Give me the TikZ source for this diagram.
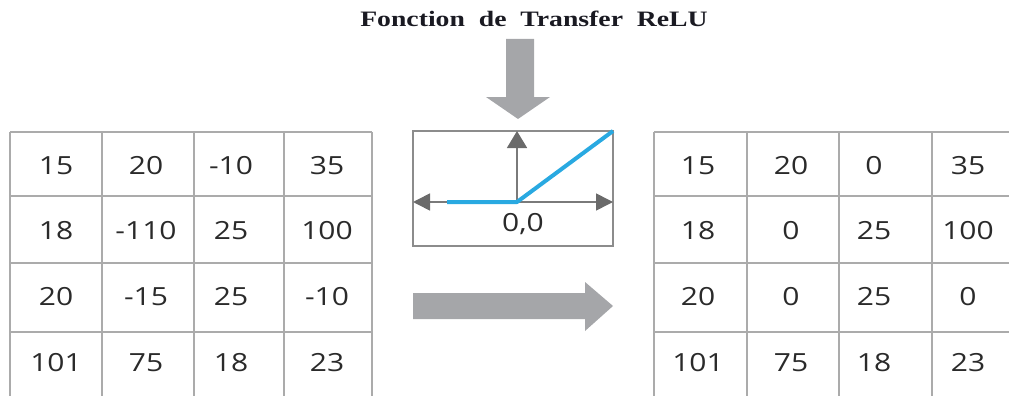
\documentclass[tikz,border=0pt]{standalone}
\usepackage{fontspec}
\usepackage{graphicx}
\setmainfont{Open Sans}
\newfontfamily\titlefont{Liberation Serif}
\usetikzlibrary{arrows.meta}

\definecolor{gridln}{HTML}{ABABAB}
\definecolor{numtext}{HTML}{2A2A2A}
\definecolor{boxln}{HTML}{8C8C8C}
\definecolor{axisln}{HTML}{7A7A7A}
\definecolor{axistip}{HTML}{6A6A6A}
\definecolor{relublue}{HTML}{29A9E1}
\definecolor{blockgray}{HTML}{A5A6A9}
\definecolor{titletext}{HTML}{1A1A22}

\tikzset{
  num/.style={font=\fontsize{25}{25}\selectfont, text=numtext, inner sep=0pt},
  gridline/.style={draw=gridln, line width=1.8pt},
  axis/.style={draw=axisln, line width=1.6pt},
  blockarrow/.style={fill=blockgray},
  titlestyle/.style={font=\titlefont\bfseries\fontsize{22}{22}\selectfont,
    text=titletext, inner sep=0pt}
}

\begin{document}
\begin{tikzpicture}[x=1pt,y=-1pt]
\useasboundingbox (0,0) rectangle (1009,396);

% title
\node[titlestyle, anchor=base] (title) at (534,27)
  {\scalebox{1.26}[1]{Fonction\ \ de\ \ Transfer\ \ ReLU}};

% arrow pointing down into the transfer function
\fill[blockarrow] (506,39) -- (534,39) -- (534,97) -- (550,97) -- (518,119)
  -- (486,97) -- (506,97) -- cycle;

% input matrix: grid
\foreach \y in {132,196,263,332} \draw[gridline] (10,\y) -- (372,\y);
\foreach \x in {10,102,194,284,372} \draw[gridline] (\x,132) -- (\x,396);

% input matrix: values
\foreach \vals [count=\i] in {{15,20,-10,35},{18,-110,25,100},{20,-15,25,-10},{101,75,18,23}}{
  \foreach \v [count=\j] in \vals {
    \pgfmathsetmacro\cx{{56,146,231,327}[\j-1]}
    \pgfmathsetmacro\cy{{166,231,297,363}[\i-1]}
    \node[num] (in-\i-\j) at (\cx,\cy) {\scalebox{1.2}[1]{\v}};
  }
}

% output matrix: grid
\foreach \y in {132,196,263,332} \draw[gridline] (654,\y) -- (1009,\y);
\foreach \x in {654,747,839,932} \draw[gridline] (\x,132) -- (\x,396);

% output matrix: values
\foreach \vals [count=\i] in {{15,20,0,35},{18,0,25,100},{20,0,25,0},{101,75,18,23}}{
  \foreach \v [count=\j] in \vals {
    \pgfmathsetmacro\cx{{698,791,874,968}[\j-1]}
    \pgfmathsetmacro\cy{{166,231,297,363}[\i-1]}
    \node[num] (out-\i-\j) at (\cx,\cy) {\scalebox{1.2}[1]{\v}};
  }
}

% ReLU plot
\draw[draw=boxln, line width=1.5pt] (413,131) rectangle (613,246);
\coordinate (o) at (517,202);
\draw[axis, {Triangle[length=17pt,width=17pt,fill=axistip,color=axistip]}-{Triangle[length=17pt,width=17pt,fill=axistip,color=axistip]}]
  (413,202) -- (613,202);
\draw[axis, -{Triangle[length=17pt,width=20pt,fill=axistip,color=axistip]}] (o) -- (517,131);
\draw[relublue, line width=4pt, line join=round] (447,202) -- (o) -- (613,131);
\node[num] (origin) at (523,224) {\scalebox{1.2}[1]{0,0}};

% arrow from input to output
\fill[blockarrow] (413,293) -- (585,293) -- (585,282) -- (613,306) -- (585,331)
  -- (585,319) -- (413,319) -- cycle;

\end{tikzpicture}
\end{document}
